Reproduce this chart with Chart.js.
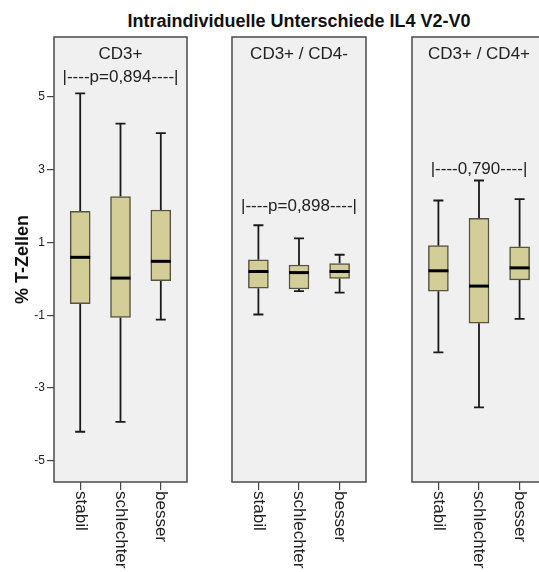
<!DOCTYPE html>
<html>
<head>
<meta charset="utf-8">
<script src="https://cdn.jsdelivr.net/npm/chart.js@4.4.0/dist/chart.umd.min.js"></script>
<style>
html, body { margin: 0; padding: 0; background: #fff; width: 539px; height: 572px; overflow: hidden; position: relative; }
.panel { position: absolute; top: 0; height: 572px; }
#titel { position: absolute; left: 0; width: 598px; top: 11px; text-align: center; font: bold 18px "Liberation Sans", Arial, sans-serif; color: #111; }
</style>
</head>
<body>
<div id="titel">Intraindividuelle Unterschiede IL4 V2-V0</div>
<div class="panel" style="left:0; width:188px"><canvas id="grafico1"></canvas></div>
<div class="panel" style="left:231px; width:136px"><canvas id="grafico2"></canvas></div>
<div class="panel" style="left:411px; width:136px"><canvas id="grafico3"></canvas></div>
<script>
var gruppen = ['stabil', 'schlechter', 'besser'];
var panelTitel = ['CD3+', 'CD3+ / CD4-', 'CD3+ / CD4+'];
var pTexte = ['|----p=0,894----|', '|----p=0,898----|', '|----0,790----|'];
var pHoehe = [5.54, 1.98, 3.02];
var yTicks = [-5, -3, -1, 1, 3, 5];

// Minimum, Q1, Median, Q3, Maximum je Gruppe
var cd3Min = [-4.20, -3.93, -1.12];
var cd3Q1 = [-0.68, -1.06, -0.05];
var cd3Median = [0.59, 0.02, 0.48];
var cd3Q3 = [1.85, 2.26, 1.89];
var cd3Max = [5.09, 4.26, 4.00];

var cd4negMin = [-0.98, -0.34, -0.38];
var cd4negQ1 = [-0.26, -0.28, 0.01];
var cd4negMedian = [0.20, 0.17, 0.20];
var cd4negQ3 = [0.52, 0.38, 0.42];
var cd4negMax = [1.47, 1.11, 0.66];

var cd4posMin = [-2.02, -3.53, -1.10];
var cd4posQ1 = [-0.34, -1.22, -0.03];
var cd4posMedian = [0.22, -0.20, 0.30];
var cd4posQ3 = [0.91, 1.66, 0.88];
var cd4posMax = [2.15, 2.70, 2.19];

var schrift = '"Liberation Sans", Arial, sans-serif';

function boxplot(id, nr, mins, q1, median, q3, maxs, mitAchse) {
    var plugin = {
        id: 'boxplot' + nr,
        beforeDraw: function (chart) {
            var a = chart.chartArea, ctx = chart.ctx;
            ctx.save();
            ctx.fillStyle = '#f0f0f0';
            ctx.fillRect(a.left, a.top, a.right - a.left, a.bottom - a.top);
            ctx.restore();
        },
        beforeDatasetsDraw: function (chart) {
            var ctx = chart.ctx, xs = chart.scales.x, ys = chart.scales.y;
            ctx.save();
            ctx.strokeStyle = '#1a1a1a';
            ctx.lineWidth = 1.8;
            for (var i = 0; i < gruppen.length; i++) {
                var x = xs.getPixelForValue(i);
                ctx.beginPath();
                ctx.moveTo(x, ys.getPixelForValue(maxs[i]));
                ctx.lineTo(x, ys.getPixelForValue(q3[i]));
                ctx.moveTo(x, ys.getPixelForValue(q1[i]));
                ctx.lineTo(x, ys.getPixelForValue(mins[i]));
                ctx.moveTo(x - 5, ys.getPixelForValue(maxs[i]));
                ctx.lineTo(x + 5, ys.getPixelForValue(maxs[i]));
                ctx.moveTo(x - 5, ys.getPixelForValue(mins[i]));
                ctx.lineTo(x + 5, ys.getPixelForValue(mins[i]));
                ctx.stroke();
            }
            ctx.restore();
        },
        afterDatasetsDraw: function (chart) {
            var ctx = chart.ctx, xs = chart.scales.x, ys = chart.scales.y;
            ctx.save();
            ctx.strokeStyle = '#000';
            ctx.lineWidth = 3;
            for (var i = 0; i < gruppen.length; i++) {
                var x = xs.getPixelForValue(i);
                var y = ys.getPixelForValue(median[i]);
                ctx.beginPath();
                ctx.moveTo(x - 10, y);
                ctx.lineTo(x + 10, y);
                ctx.stroke();
            }
            ctx.restore();
        },
        afterDraw: function (chart) {
            var a = chart.chartArea, ctx = chart.ctx, xs = chart.scales.x, ys = chart.scales.y;
            ctx.save();
            ctx.strokeStyle = '#4a4a4a';
            ctx.lineWidth = 1.5;
            ctx.strokeRect(a.left, a.top, a.right - a.left, a.bottom - a.top);

            var mitte = (a.left + a.right) / 2;
            ctx.fillStyle = '#222';
            ctx.font = '17px ' + schrift;
            ctx.textAlign = 'center';
            ctx.textBaseline = 'middle';
            ctx.fillText(panelTitel[nr], mitte, a.top + 17);
            ctx.fillText(pTexte[nr], mitte, ys.getPixelForValue(pHoehe[nr]));

            // Gruppennamen, im Uhrzeigersinn gedreht
            ctx.textAlign = 'left';
            for (var i = 0; i < gruppen.length; i++) {
                ctx.save();
                ctx.translate(xs.getPixelForValue(i), a.bottom + 9);
                ctx.rotate(Math.PI / 2);
                ctx.fillText(gruppen[i], 0, 0);
                ctx.restore();
            }
            ctx.restore();
        }
    };

    var yAchse = {
        display: mitAchse,
        min: -5.58,
        max: 6.64,
        afterBuildTicks: function (s) { s.ticks = yTicks.map(function (v) { return { value: v }; }); },
        border: { display: false },
        grid: { drawOnChartArea: false, drawTicks: true, tickLength: 7, color: '#444', lineWidth: 1.2 },
        ticks: { font: { size: 12, family: schrift }, color: '#222', padding: 2 },
        title: {
            display: true,
            text: '% T-Zellen',
            font: { size: 18, weight: 'bold', family: schrift, lineHeight: 1.2 },
            color: '#111',
            padding: { top: 12, bottom: 0 }
        }
    };
    if (mitAchse) {
        yAchse.afterFit = function (s) { s.width = 54; };
    }

    var ctx1 = document.getElementById(id).getContext('2d');
    return new Chart(ctx1, {
        type: 'bar',
        data: {
            datasets: [{
                data: gruppen.map(function (g, i) { return { x: i, y: [q1[i], q3[i]] }; }),
                backgroundColor: '#d3ce97',
                borderColor: '#55543f',
                borderWidth: 1.5,
                borderSkipped: false,
                barThickness: 20
            }]
        },
        options: {
            responsive: true,
            maintainAspectRatio: false,
            animation: false,
            layout: { padding: { top: 37, left: mitAchse ? 0 : 1, right: 1, bottom: 0 } },
            plugins: { legend: { display: false }, tooltip: { enabled: false } },
            scales: {
                x: {
                    type: 'linear',
                    min: -0.65,
                    max: 2.65,
                    offset: false,
                    afterBuildTicks: function (s) { s.ticks = gruppen.map(function (g, i) { return { value: i }; }); },
                    afterFit: function (s) { s.height = 90; },
                    ticks: { display: false },
                    border: { display: false },
                    grid: { offset: false, drawOnChartArea: false, drawTicks: true, tickLength: 8, color: '#444', lineWidth: 1.2 }
                },
                y: yAchse
            }
        },
        plugins: [plugin]
    });
}

boxplot('grafico1', 0, cd3Min, cd3Q1, cd3Median, cd3Q3, cd3Max, true);
boxplot('grafico2', 1, cd4negMin, cd4negQ1, cd4negMedian, cd4negQ3, cd4negMax, false);
boxplot('grafico3', 2, cd4posMin, cd4posQ1, cd4posMedian, cd4posQ3, cd4posMax, false);
</script>
</body>
</html>
